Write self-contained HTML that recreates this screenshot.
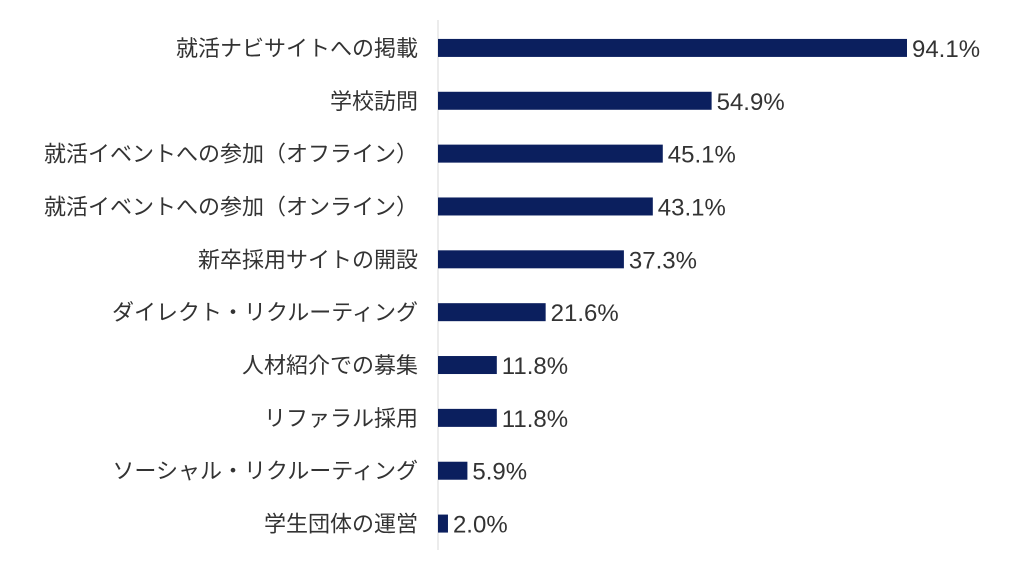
<!DOCTYPE html>
<html><head><meta charset="utf-8"><style>
body{margin:0;background:#fff;}
svg text{font-family:"Liberation Sans","Noto Sans CJK JP",sans-serif;fill:#333;}
</style></head><body>
<svg id="chart" width="1024" height="576" viewBox="0 0 1024 576" xmlns="http://www.w3.org/2000/svg"></svg>
<script>
const categories=["就活ナビサイトへの掲載","学校訪問","就活イベントへの参加（オフライン）","就活イベントへの参加（オンライン）","新卒採用サイトの開設","ダイレクト・リクルーティング","人材紹介での募集","リファラル採用","ソーシャル・リクルーティング","学生団体の運営"];
const values=[94.1,54.9,45.1,43.1,37.3,21.6,11.8,11.8,5.9,2.0];
const valueLabels=["94.1%","54.9%","45.1%","43.1%","37.3%","21.6%","11.8%","11.8%","5.9%","2.0%"];
const svgEl=document.getElementById('chart');
const NS='http://www.w3.org/2000/svg';
const x0=438, pxPer=4.984, plotTop=21.5, band=52.85, barH=18;
const xs=v=>x0+v*pxPer;
const yc=i=>plotTop+band*(i+0.5);
function mk(t,a){const e=document.createElementNS(NS,t);for(const k in a)e.setAttribute(k,a[k]);svgEl.appendChild(e);return e;}
const ax=mk('line',{x1:x0,x2:x0,y1:20,y2:550,stroke:'#d9d9d9','stroke-width':1});


categories.forEach((c,i)=>{
  const r=mk('rect',{x:x0,y:yc(i)-barH/2,width:xs(values[i])-x0,height:barH,fill:'#0b1f5e'});
  
  
  const t=mk('text',{x:418,y:yc(i)+8,'text-anchor':'end','font-size':22});
  t.textContent=c;
  
  
  const v=mk('text',{x:xs(values[i])+5,y:yc(i)+9,'font-size':24});
  v.textContent=valueLabels[i];
  
  
});
</script>
</body></html>
